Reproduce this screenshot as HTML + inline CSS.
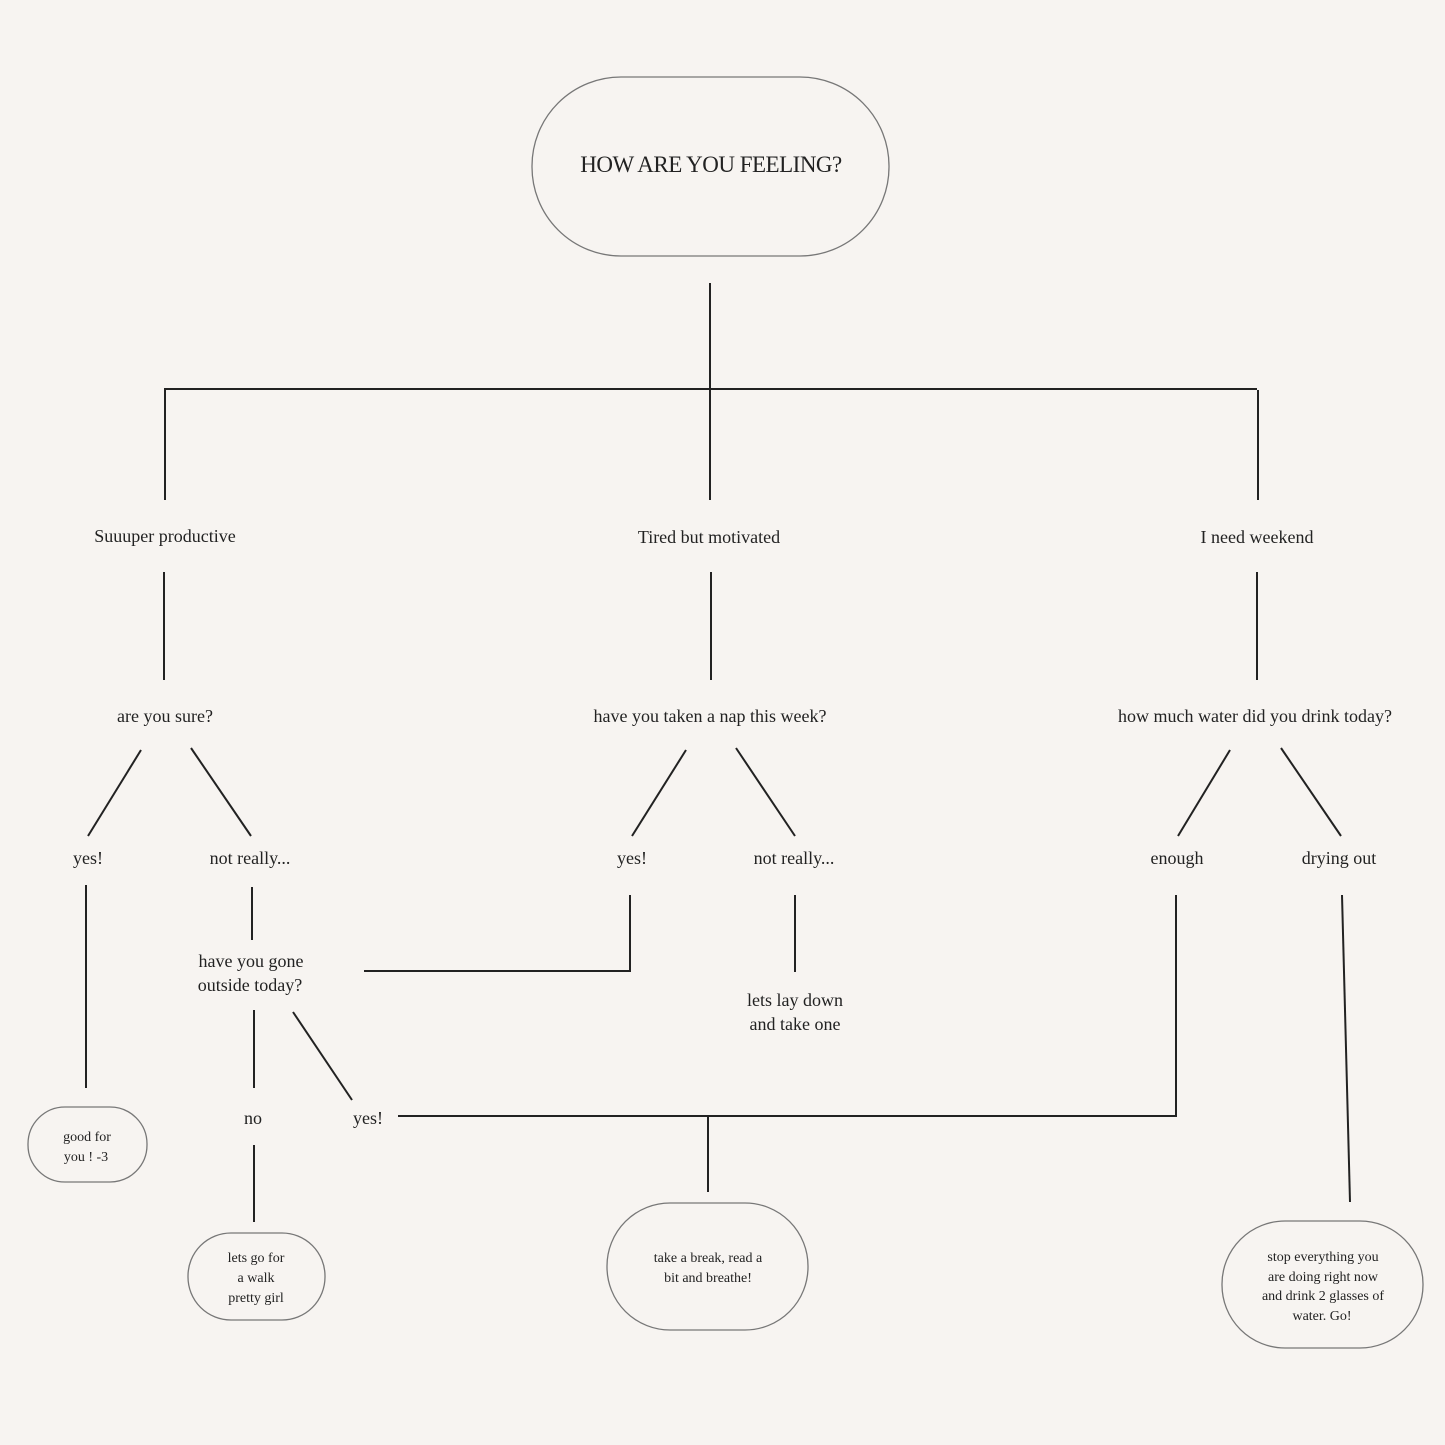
<!DOCTYPE html>
<html><head><meta charset="utf-8"><style>
html,body{margin:0;padding:0;background:#f7f4f1;}
svg{display:block}
text{font-family:"Liberation Serif",serif;fill:#222;text-anchor:middle;}
</style></head><body>
<svg width="1445" height="1445" viewBox="0 0 1445 1445">
<rect width="1445" height="1445" fill="#f7f4f1"/>
<g stroke="#222" stroke-width="2" fill="none">
<line x1="710" y1="283" x2="710" y2="500"/>
<line x1="164" y1="389" x2="1257" y2="389"/>
<line x1="165" y1="390" x2="165" y2="500"/>
<line x1="1258" y1="390" x2="1258" y2="500"/>
<line x1="164" y1="572" x2="164" y2="680"/>
<line x1="711" y1="572" x2="711" y2="680"/>
<line x1="1257" y1="572" x2="1257" y2="680"/>
<line x1="141" y1="750" x2="88" y2="836"/>
<line x1="191" y1="748" x2="251" y2="836"/>
<line x1="686" y1="750" x2="632" y2="836"/>
<line x1="736" y1="748" x2="795" y2="836"/>
<line x1="1230" y1="750" x2="1178" y2="836"/>
<line x1="1281" y1="748" x2="1341" y2="836"/>
<line x1="86" y1="885" x2="86" y2="1088"/>
<line x1="252" y1="887" x2="252" y2="940"/>
<polyline points="630,895 630,971 364,971"/>
<line x1="795" y1="895" x2="795" y2="972"/>
<line x1="254" y1="1010" x2="254" y2="1088"/>
<line x1="293" y1="1012" x2="352" y2="1100"/>
<line x1="254" y1="1145" x2="254" y2="1222"/>
<polyline points="398,1116 1176,1116 1176,895"/>
<line x1="708" y1="1116" x2="708" y2="1192"/>
<line x1="1342" y1="895" x2="1350" y2="1202"/>
</g>
<g stroke="#777" stroke-width="1.3" fill="none">
<rect x="532" y="77" width="357" height="179" rx="89"/>
<rect x="28" y="1107" width="119" height="75" rx="37"/>
<rect x="188" y="1233" width="137" height="87" rx="43"/>
<rect x="607" y="1203" width="201" height="127" rx="63"/>
<rect x="1222" y="1221" width="201" height="127" rx="63"/>
</g>
<text x="711" y="172" font-size="23" letter-spacing="-0.5">HOW ARE YOU FEELING?</text>
<g font-size="18">
<text x="165" y="542">Suuuper productive</text>
<text x="709" y="543">Tired but motivated</text>
<text x="1257" y="543">I need weekend</text>
<text x="165" y="722">are you sure?</text>
<text x="710" y="722">have you taken a nap this week?</text>
<text x="1255" y="722">how much water did you drink today?</text>
<text x="88" y="864">yes!</text>
<text x="250" y="864">not really...</text>
<text x="632" y="864">yes!</text>
<text x="794" y="864">not really...</text>
<text x="1177" y="864">enough</text>
<text x="1339" y="864">drying out</text>
<text x="251" y="967">have you gone</text>
<text x="250" y="991">outside today?</text>
<text x="795" y="1006">lets lay down</text>
<text x="795" y="1030">and take one</text>
<text x="253" y="1124">no</text>
<text x="368" y="1124">yes!</text>
</g>
<g font-size="14">
<text x="87" y="1141">good for</text>
<text x="86" y="1161">you ! -3</text>
<text x="256" y="1262">lets go for</text>
<text x="256" y="1282">a walk</text>
<text x="256" y="1302">pretty girl</text>
<text x="708" y="1262">take a break, read a</text>
<text x="708" y="1282">bit and breathe!</text>
<text x="1323" y="1261">stop everything you</text>
<text x="1323" y="1281">are doing right now</text>
<text x="1323" y="1300">and drink 2 glasses of</text>
<text x="1322" y="1320">water. Go!</text>
</g>
</svg>
</body></html>
